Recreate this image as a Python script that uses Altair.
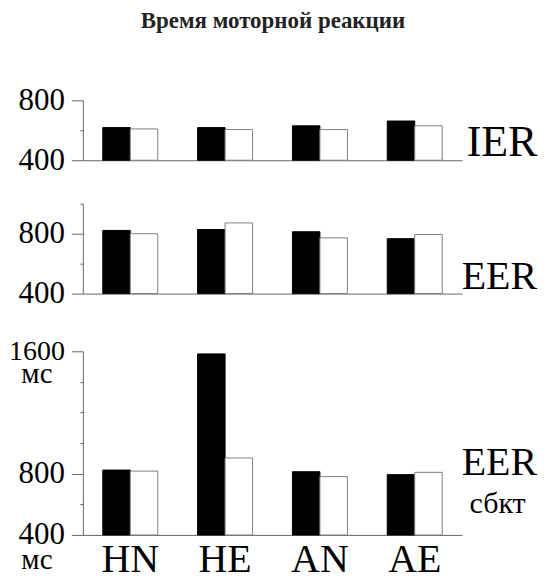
import altair as alt
import pandas as pd

categories = ["HN", "HE", "AN", "AE"]
series = ["black", "white"]
ier_black = [618, 618, 630, 662]
ier_white = [609, 605, 605, 630]
eer_black = [822, 828, 813, 767]
eer_white = [800, 872, 772, 795]
sbkt_black = [824, 1583, 813, 794]
sbkt_white = [817, 903, 781, 809]

FONT = "Liberation Serif"
AXC = "#666666"


def frame(b, w):
    rows = []
    for c, vb, vw in zip(categories, b, w):
        rows.append({"cat": c, "series": "black", "value": vb})
        rows.append({"cat": c, "series": "white", "value": vw})
    return pd.DataFrame(rows)


def panel(b, w, domain, ticks, labeled, height, right_label, show_x=False, sub=None, ms=False):
    df = frame(b, w)
    test = " || ".join(f"datum.value == {v}" for v in labeled)
    xaxis = alt.Axis(
        title=None, ticks=False, tickSize=0, domainColor=AXC,
        labels=show_x, labelFont=FONT, labelFontSize=40, labelColor="black",
        labelBaseline="alphabetic", labelPadding=36.5, labelAngle=0,
    )
    yaxis = alt.Axis(
        title=None, values=ticks, grid=False, domainColor=AXC, tickColor=AXC,
        labelFont=FONT, labelColor="black",
        labelFontSize={"condition": {"test": "datum.value == 1600", "value": 28}, "value": 31},
        labelExpr=f"({test}) ? ('' + datum.value) : ''",
        tickSize={"condition": {"test": test, "value": 11.5}, "value": 3},
        labelPadding=7, labelBaseline="middle",
    )
    bars = alt.Chart(df).mark_bar(strokeWidth=1).encode(
        x=alt.X("cat:N", sort=categories, axis=xaxis,
                scale=alt.Scale(paddingInner=0.42, paddingOuter=0.21)),
        xOffset=alt.XOffset("series:N", sort=series, scale=alt.Scale(paddingInner=0, paddingOuter=0)),
        y=alt.Y("value:Q", scale=alt.Scale(domain=domain, zero=False, nice=False), axis=yaxis),
        y2=alt.datum(domain[0]),
        fill=alt.Fill("series:N", scale=alt.Scale(domain=series, range=["#000000", "#ffffff"]), legend=None),
        stroke=alt.Stroke("series:N", scale=alt.Scale(domain=series, range=["#000000", "#808080"]), legend=None),
    )
    layers = [bars]
    lab = alt.Chart(pd.DataFrame({"t": [right_label[0]]})).mark_text(
        font=FONT, fontSize=right_label[3], align="left", baseline="alphabetic", color="black"
    ).encode(text="t:N", x=alt.value(right_label[2]), y=alt.value(right_label[1]))
    layers.append(lab)
    if sub is not None:
        s = alt.Chart(pd.DataFrame({"t": [sub[0]]})).mark_text(
            font=FONT, fontSize=30, align="center", baseline="alphabetic", color="black"
        ).encode(text="t:N", x=alt.value(sub[2]), y=alt.value(sub[1]))
        layers.append(s)
    if ms:
        m = alt.Chart(pd.DataFrame({"t": ["мс", "мс"], "py": [31.5, 218.5]})).mark_text(
            font=FONT, fontSize=29, align="center", baseline="alphabetic", color="black"
        ).encode(text="t:N", x=alt.value(-46), y=alt.Y("py:Q", scale=None))
        layers.append(m)
    return alt.layer(*layers).properties(width=380, height=height)


p1 = panel(ier_black, ier_white, [400, 800], [400, 600, 800], [400, 800], 60,
           ("IER", 55.3, 384.5, 44))
p2 = panel(eer_black, eer_white, [400, 1000], [400, 600, 800, 1000], [400, 800], 90,
           ("EER", 85.4, 379.5, 40))
p3 = panel(sbkt_black, sbkt_white, [400, 1600], [400, 600, 800, 1000, 1200, 1400, 1600],
           [400, 800, 1600], 184, ("EER", 123.8, 379.5, 40), show_x=True,
           sub=("сбкт", 162.3, 415.5), ms=True)

top = alt.vconcat(p1, p2, spacing=43.6, bounds="flush")
chart = alt.vconcat(top, p3, spacing=28.4).properties(
    title=alt.TitleParams("Время моторной реакции", font=FONT, fontSize=23, fontWeight="bold",
                          anchor="middle", color="#222222", offset=51),
    padding={"left": 0, "top": 2, "right": 0, "bottom": -8},
).configure_view(stroke=None)

chart.save("out.html", embed_options={"renderer": "svg", "actions": False})
